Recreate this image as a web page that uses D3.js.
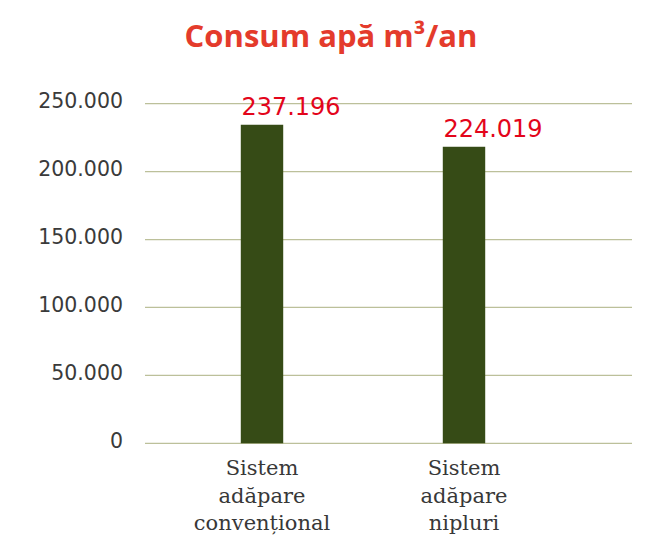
<!DOCTYPE html>
<html>
<head>
<meta charset="utf-8">
<script src="https://cdn.jsdelivr.net/npm/d3@7"></script>
<style>
  html, body { margin: 0; padding: 0; background: #ffffff; }
  svg { display: block; }
</style>
</head>
<body>
<svg id="chart" width="665" height="538"></svg>
<script>
// ---- data ----
const titleText = "Consum apă m³/an";
const categories = [
  ["Sistem", "adăpare", "convențional"],
  ["Sistem", "adăpare", "nipluri"]
];
const categoryKeys = ["conventional", "nipluri"];
const barValues = [234500, 218300];          // bar heights as drawn
const valueLabels = ["237.196", "224.019"];  // labels printed above the bars
const yTicks = [0, 50000, 100000, 150000, 200000, 250000];
const yTickLabels = ["0", "50.000", "100.000", "150.000", "200.000", "250.000"];

// ---- layout ----
const svg = d3.select("#chart");
const gridLeft = 145, gridRight = 632;
const y = d3.scaleLinear().domain([0, 250000]).range([443.3, 103.7]);
const x = d3.scaleBand().domain(categoryKeys).range([161, 565])
  .paddingInner(0.79).paddingOuter(0.395);

// title
svg.append("text")
  .attr("x", 331).attr("y", 46.5)
  .attr("text-anchor", "middle")
  .attr("font-family", "'Open Sans', sans-serif")
  .attr("font-weight", 700)
  .attr("font-size", 31)
  .attr("fill", "#e43b2c")
  .text(titleText);

// gridlines
svg.append("g").selectAll("line").data(yTicks).join("line")
  .attr("x1", gridLeft).attr("x2", gridRight)
  .attr("y1", d => y(d)).attr("y2", d => y(d))
  .attr("stroke", "#bcc09a").attr("stroke-width", 1.3);

// y axis labels
const yAxis = d3.axisLeft(y).tickValues(yTicks)
  .tickFormat((d, i) => yTickLabels[i]).tickSize(0).tickPadding(0);
const yg = svg.append("g").attr("transform", "translate(123,0)").call(yAxis);
yg.select(".domain").remove();
yg.selectAll("text")
  .attr("font-family", "'DejaVu Sans', sans-serif")
  .attr("font-size", 20.5)
  .attr("fill", "#3a3a3a")
  .attr("dy", "0.2em");

// bars
svg.append("g").selectAll("rect").data(barValues).join("rect")
  .attr("x", (d, i) => x(categoryKeys[i]))
  .attr("width", x.bandwidth())
  .attr("y", d => y(d))
  .attr("height", d => y(0) - y(d))
  .attr("fill", "#364b16");

// value labels
svg.append("g").selectAll("text").data(barValues).join("text")
  .attr("x", (d, i) => x(categoryKeys[i]) + x.bandwidth() / 2 + 29)
  .attr("y", d => y(d) - 9.5)
  .attr("text-anchor", "middle")
  .attr("font-family", "'DejaVu Sans', sans-serif")
  .attr("font-size", 24)
  .attr("fill", "#e3051b")
  .text((d, i) => valueLabels[i]);

// category labels
const cg = svg.append("g").selectAll("text").data(categories).join("text")
  .attr("text-anchor", "middle")
  .attr("font-family", "'DejaVu Serif', serif")
  .attr("font-size", 21)
  .attr("fill", "#383838")
  .attr("transform", (d, i) => `translate(${x(categoryKeys[i]) + x.bandwidth() / 2},475)`);
cg.selectAll("tspan").data(d => d).join("tspan")
  .attr("x", 0)
  .attr("y", (d, j) => j * 27.5)
  .text(d => d);
</script>
</body>
</html>
